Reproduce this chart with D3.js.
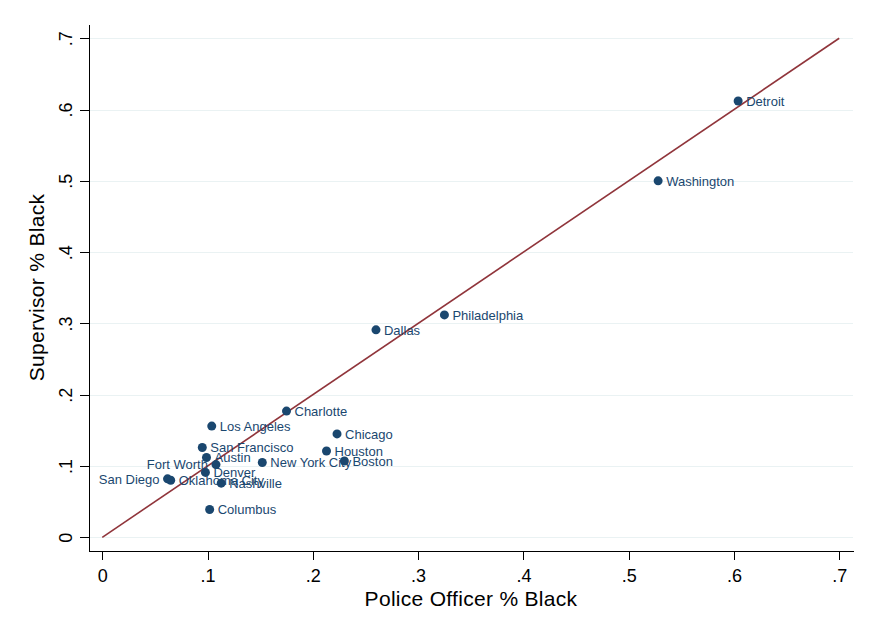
<!DOCTYPE html>
<html>
  <head>
    <meta charset="utf-8">
    <title>Supervisor vs police officer % Black</title>
    <style>
      body {
        margin: 0px;
        overflow: hidden;
        background: white;
      }
      text {
        font-family: "Liberation Sans", Arial, Helvetica, sans-serif;
      }
      .grid line {
        stroke: #eaf2f3;
        stroke-width: 1px;
        shape-rendering: crispEdges;
      }
      .axis path, .axis line {
        stroke: black;
        stroke-width: 1px;
        shape-rendering: crispEdges;
      }
      .axis text {
        font-size: 18px;
        fill: black;
      }
      .title {
        font-size: 21px;
        letter-spacing: 0.3px;
        fill: black;
      }
      .dot {
        fill: #1a476f;
      }
      .label {
        font-size: 13px;
        fill: #1a476f;
      }
    </style>
  </head>
  <body>
    <svg id="chart"></svg>
    <script src="https://cdn.jsdelivr.net/npm/d3@7"></script>
    <script>
      // values
      var cities = ['Detroit', 'Washington', 'Philadelphia', 'Dallas', 'Charlotte',
        'Los Angeles', 'Chicago', 'San Francisco', 'Houston', 'Austin',
        'New York City', 'Boston', 'Fort Worth', 'Denver', 'San Diego',
        'Oklahoma City', 'Nashville', 'Columbus'];
      var officerBlack = [0.604, 0.528, 0.325, 0.260, 0.175,
        0.104, 0.223, 0.095, 0.213, 0.099,
        0.152, 0.230, 0.108, 0.098, 0.062,
        0.065, 0.113, 0.102];
      var supervisorBlack = [0.612, 0.500, 0.312, 0.291, 0.177,
        0.156, 0.145, 0.126, 0.121, 0.112,
        0.105, 0.107, 0.102, 0.091, 0.082,
        0.080, 0.076, 0.039];
      // label on the left of the marker (9 o'clock) for these
      var leftLabels = ['Fort Worth', 'San Diego'];
      var ticks = [0, 0.1, 0.2, 0.3, 0.4, 0.5, 0.6, 0.7];

      var width = 875,
        height = 637,
        plot = { left: 89, right: 853, top: 24, bottom: 551 },
        svg = d3.select('#chart').attr('width', width).attr('height', height);

      var x = d3.scaleLinear().domain([-0.0126, 0.7131]).range([plot.left, plot.right]);
      var y = d3.scaleLinear().domain([-0.0192, 0.72]).range([plot.bottom, plot.top]);

      var fmt = function(d) {
        return d === 0 ? '0' : d3.format('.1f')(d).replace(/^0/, '');
      };

      /*
        Grid
      */
      svg.append('g')
        .attr('class', 'grid')
        .selectAll('line')
        .data(ticks)
        .join('line')
        .attr('x1', plot.left)
        .attr('x2', plot.right)
        .attr('y1', function(d) { return Math.round(y(d)) + 0.5; })
        .attr('y2', function(d) { return Math.round(y(d)) + 0.5; });

      /*
        Axes
      */
      svg.append('g')
        .attr('class', 'axis')
        .attr('transform', 'translate(0,' + plot.bottom + ')')
        .call(d3.axisBottom(x).tickValues(ticks).tickFormat(fmt).tickSize(9).tickSizeOuter(0).tickPadding(9));

      var yAxis = svg.append('g')
        .attr('class', 'axis')
        .attr('transform', 'translate(' + plot.left + ',0)')
        .call(d3.axisLeft(y).tickValues(ticks).tickFormat(fmt).tickSize(9).tickSizeOuter(0));

      yAxis.selectAll('.tick text')
        .attr('transform', 'rotate(-90)')
        .attr('x', 0)
        .attr('y', -17)
        .attr('dy', 0)
        .attr('text-anchor', 'middle');

      svg.append('text')
        .attr('class', 'title')
        .attr('x', (plot.left + plot.right) / 2)
        .attr('y', 606)
        .attr('text-anchor', 'middle')
        .text('Police Officer % Black');

      svg.append('text')
        .attr('class', 'title')
        .attr('transform', 'translate(44,' + (plot.top + plot.bottom) / 2 + ') rotate(-90)')
        .attr('text-anchor', 'middle')
        .text('Supervisor % Black');

      /*
        45 degree line
      */
      svg.append('line')
        .attr('x1', x(0)).attr('y1', y(0))
        .attr('x2', x(0.7)).attr('y2', y(0.7))
        .attr('stroke', '#90353b')
        .attr('stroke-width', 1.6);

      /*
        Points and labels
      */
      var points = cities.map(function(c, i) {
        return { city: c, x: officerBlack[i], y: supervisorBlack[i] };
      });

      svg.append('g')
        .selectAll('circle')
        .data(points)
        .join('circle')
        .attr('class', 'dot')
        .attr('cx', function(d) { return x(d.x); })
        .attr('cy', function(d) { return y(d.y); })
        .attr('r', 4.5);

      svg.append('g')
        .selectAll('text')
        .data(points)
        .join('text')
        .attr('class', 'label')
        .attr('x', function(d) {
          return leftLabels.indexOf(d.city) >= 0 ? x(d.x) - 8 : x(d.x) + 8;
        })
        .attr('y', function(d) { return y(d.y); })
        .attr('dy', '0.36em')
        .attr('text-anchor', function(d) {
          return leftLabels.indexOf(d.city) >= 0 ? 'end' : 'start';
        })
        .text(function(d) { return d.city; });
    </script>
  </body>
</html>
